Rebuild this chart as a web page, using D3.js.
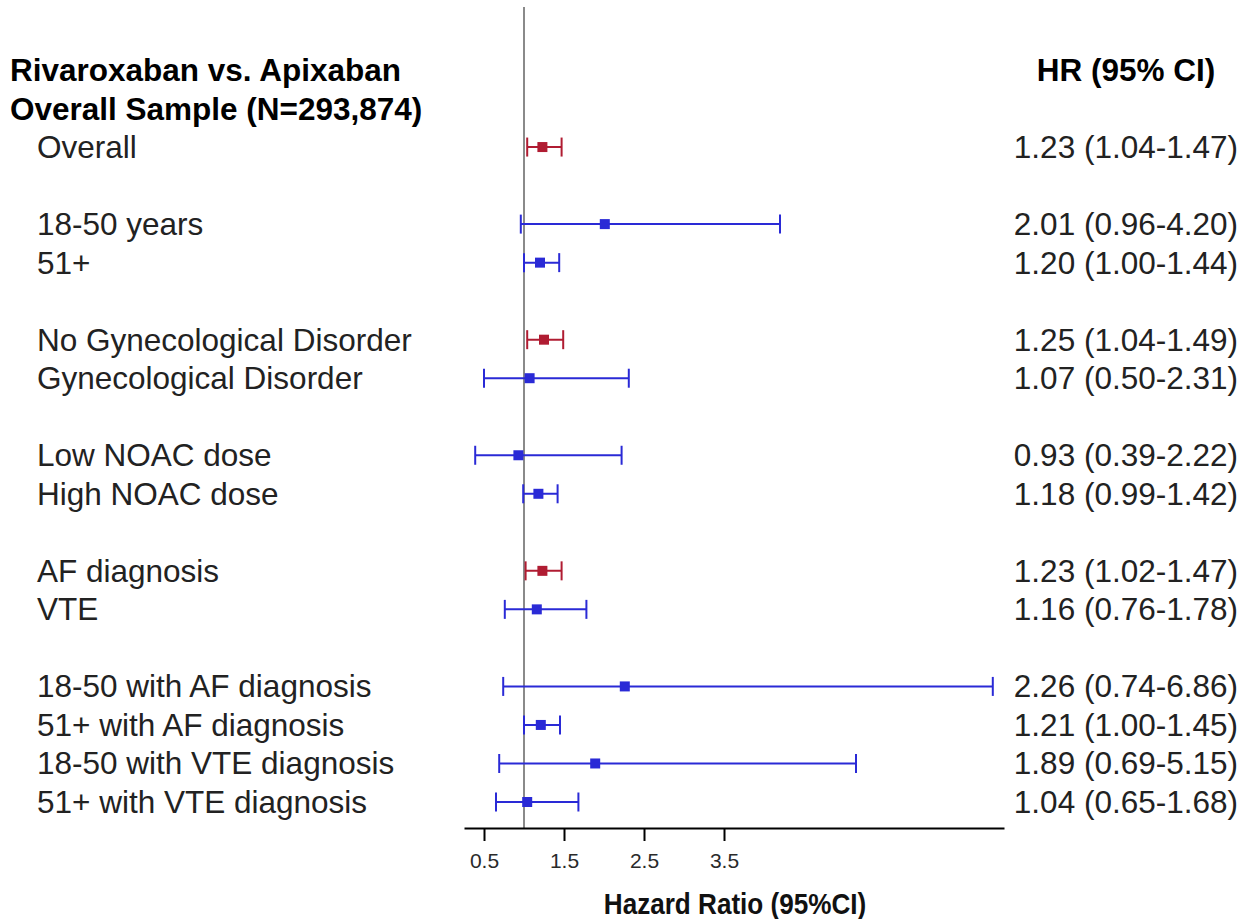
<!DOCTYPE html>
<html>
<head>
<meta charset="utf-8">
<script src="https://cdn.jsdelivr.net/npm/d3@7"></script>
<style>
  body { margin: 0; background: #fff; }
  text { font-family: Arial, "Liberation Sans", sans-serif; }
</style>
</head>
<body>
<div class="visData"></div>
<script>
const w = 1244;
const h = 919;

// data
const labels = [
  "Overall", "",
  "18-50 years", "51+", "",
  "No Gynecological Disorder", "Gynecological Disorder", "",
  "Low NOAC dose", "High NOAC dose", "",
  "AF diagnosis", "VTE", "",
  "18-50 with AF diagnosis", "51+ with AF diagnosis",
  "18-50 with VTE diagnosis", "51+ with VTE diagnosis"
];
const hr = [1.23, null, 2.01, 1.20, null, 1.25, 1.07, null, 0.93, 1.18, null, 1.23, 1.16, null, 2.26, 1.21, 1.89, 1.04];
const lo = [1.04, null, 0.96, 1.00, null, 1.04, 0.50, null, 0.39, 0.99, null, 1.02, 0.76, null, 0.74, 1.00, 0.69, 0.65];
const hi = [1.47, null, 4.20, 1.44, null, 1.49, 2.31, null, 2.22, 1.42, null, 1.47, 1.78, null, 6.86, 1.45, 5.15, 1.68];
const headers = ["Rivaroxaban vs. Apixaban", "Overall Sample (N=293,874)"];
const xTicks = [0.5, 1.5, 2.5, 3.5];

const rows = labels
  .map((d, i) => ({ label: d, hr: hr[i], lo: lo[i], hi: hi[i], row: i + 2 }))
  .filter((d) => d.label !== "");

const svg = d3
  .select(".visData")
  .append("svg")
  .attr("width", w)
  .attr("height", h);

const x = d3.scaleLinear().domain([0.25, 7]).range([464, 1004]);
const y = d3
  .scalePoint()
  .domain(d3.range(labels.length + 2))
  .range([70, 802]);

const axisY = 828;
const fs = 31.5;
const red = "#b01c32";
const blue = "#2a2ad6";
const color = (d) => (d.lo > 1 ? red : blue);

// reference line at 1
svg
  .append("line")
  .attr("x1", x(1))
  .attr("x2", x(1))
  .attr("y1", 7)
  .attr("y2", axisY)
  .attr("stroke", "#8a8a8a")
  .attr("stroke-width", 2);

// x axis
const axis = svg
  .append("g")
  .attr("transform", `translate(0,${axisY})`)
  .call(d3.axisBottom(x).tickValues(xTicks).tickSize(13).tickSizeOuter(0).tickFormat(d3.format(".1f")));
axis.select(".domain").attr("stroke", "#000").attr("stroke-width", 2);
axis.selectAll(".tick line").attr("stroke", "#000").attr("stroke-width", 2);
axis
  .selectAll(".tick text")
  .attr("y", 40)
  .attr("dy", 0)
  .attr("font-size", 21)
  .attr("font-family", "Arial, 'Liberation Sans', sans-serif")
  .attr("fill", "#2a2a2a");

svg
  .append("text")
  .attr("transform", `translate(735,914) scale(0.87,1)`)
  .attr("text-anchor", "middle")
  .attr("font-weight", "bold")
  .attr("font-size", 30)
  .attr("fill", "#111")
  .text("Hazard Ratio (95%CI)");

// headers
svg
  .selectAll(".header")
  .data(headers)
  .enter()
  .append("text")
  .attr("class", "header")
  .attr("x", 10)
  .attr("y", (d, i) => y(i) + 11)
  .attr("font-size", fs)
  .attr("font-weight", "bold")
  .attr("fill", "#000")
  .text((d) => d);

svg
  .append("text")
  .attr("x", 1126)
  .attr("y", y(0) + 11)
  .attr("text-anchor", "middle")
  .attr("font-size", fs)
  .attr("font-weight", "bold")
  .attr("fill", "#000")
  .text("HR (95% CI)");

// row labels
svg
  .selectAll(".label")
  .data(rows)
  .enter()
  .append("text")
  .attr("class", "label")
  .attr("x", 37)
  .attr("y", (d) => y(d.row) + 11)
  .attr("font-size", fs)
  .attr("fill", "#222")
  .text((d) => d.label);

// HR text
const f = d3.format(".2f");
svg
  .selectAll(".hrtext")
  .data(rows)
  .enter()
  .append("text")
  .attr("class", "hrtext")
  .attr("x", 1238)
  .attr("y", (d) => y(d.row) + 11)
  .attr("text-anchor", "end")
  .attr("font-size", fs)
  .attr("fill", "#222")
  .text((d) => `${f(d.hr)} (${f(d.lo)}-${f(d.hi)})`);

// error bars
const bars = svg
  .selectAll(".ci")
  .data(rows)
  .enter()
  .append("g")
  .attr("class", "ci")
  .attr("stroke", color)
  .attr("fill", color)
  .attr("stroke-width", 2);

bars
  .append("line")
  .attr("x1", (d) => x(d.lo))
  .attr("x2", (d) => x(d.hi))
  .attr("y1", (d) => y(d.row))
  .attr("y2", (d) => y(d.row));

bars
  .selectAll(".cap")
  .data((d) => [d.lo, d.hi].map((v) => ({ v: v, row: d.row })))
  .enter()
  .append("line")
  .attr("class", "cap")
  .attr("x1", (d) => x(d.v))
  .attr("x2", (d) => x(d.v))
  .attr("y1", (d) => y(d.row) - 9.5)
  .attr("y2", (d) => y(d.row) + 9.5);

bars
  .append("rect")
  .attr("x", (d) => x(d.hr) - 5)
  .attr("y", (d) => y(d.row) - 5)
  .attr("width", 10)
  .attr("height", 10)
  .attr("stroke", "none");
</script>
</body>
</html>
